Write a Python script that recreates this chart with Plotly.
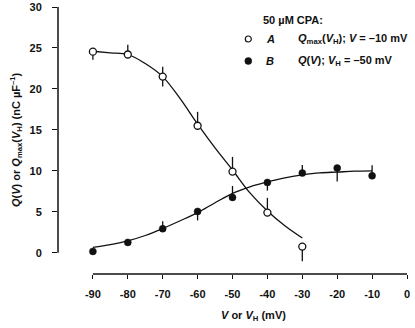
import plotly.graph_objects as go

# ---- data ----
v_points_a = [-90, -80, -70, -60, -50, -40, -30]
q_points_a = [24.55, 24.2, 21.5, 15.5, 9.9, 4.9, 0.75]
err_up_a = [0, 1.2, 1.2, 1.7, 1.8, 1.8, 0]
err_dn_a = [1.0, 0, 1.2, 0, 0, 0, 1.8]

v_points_b = [-90, -80, -70, -60, -50, -40, -30, -20, -10]
q_points_b = [0.16, 1.26, 2.93, 5.04, 6.75, 8.58, 9.72, 10.33, 9.39]
err_up_b = [0, 0, 0.9, 0, 1.4, 0, 1.0, 0, 1.3]
err_dn_b = [0, 0, 0, 1.1, 0, 1.0, 0, 1.65, 0]

v_curve_a = [-90, -85, -80, -75, -70, -65, -60, -55, -50, -45, -40, -35, -30]
q_curve_a = [24.6, 24.4, 24.2, 23.1, 21.5, 18.8, 15.7, 12.8, 10.1, 7.3, 5.1, 3.3, 1.8]

v_curve_b = [-90, -85, -80, -75, -70, -65, -60, -55, -50, -45, -40, -35, -30, -25, -20, -15, -10]
q_curve_b = [0.65, 1.0, 1.45, 2.1, 2.95, 3.9, 4.9, 6.1, 7.25, 8.05, 8.65, 9.15, 9.5, 9.75, 9.85, 9.95, 10.0]

x_tickvals = [-90, -80, -70, -60, -50, -40, -30, -20, -10, 0]
x_ticktext = ["-90", "-80", "-70", "-60", "-50", "-40", "-30", "-20", "-10", "0"]
y_tickvals = [0, 5, 10, 15, 20, 25, 30]

FONT = "Liberation Sans, Arial, sans-serif"
BLACK = "#111111"

fig = go.Figure()

fig.add_trace(go.Scatter(x=v_curve_a, y=q_curve_a, mode="lines", line=dict(color=BLACK, width=1.3, shape="spline"),
                         hoverinfo="skip", showlegend=False))
fig.add_trace(go.Scatter(x=v_curve_b, y=q_curve_b, mode="lines", line=dict(color=BLACK, width=1.3, shape="spline"),
                         hoverinfo="skip", showlegend=False))

fig.add_trace(go.Scatter(
    x=v_points_a, y=q_points_a, mode="markers",
    marker=dict(symbol="circle", size=7, color="white", line=dict(color=BLACK, width=1.3)),
    error_y=dict(type="data", symmetric=False, array=err_up_a, arrayminus=err_dn_a,
                 color=BLACK, thickness=1.3, width=0),
    showlegend=False))
fig.add_trace(go.Scatter(
    x=v_points_b, y=q_points_b, mode="markers",
    marker=dict(symbol="circle", size=7, color=BLACK, line=dict(color=BLACK, width=0.5)),
    error_y=dict(type="data", symmetric=False, array=err_up_b, arrayminus=err_dn_b,
                 color=BLACK, thickness=1.3, width=0),
    showlegend=False))

L, R, T, B = 58, 8, 7, 54
W, H = 415, 328
pw = W - L - R
ph = H - T - B


def px(xp):
    return (xp - L) / pw


def py(yp):
    return (H - B - yp) / ph


shapes = [
    dict(type="line", xref="paper", yref="y", x0=0, x1=0, y0=0, y1=30, line=dict(color=BLACK, width=1.5)),
    dict(type="line", xref="x", yref="paper", x0=-90, x1=0, y0=0, y1=0, line=dict(color=BLACK, width=1.5)),
    dict(type="circle", xref="paper", yref="paper", xsizemode="pixel", ysizemode="pixel",
         xanchor=px(248.3), yanchor=py(39), x0=-3, x1=3, y0=-3, y1=3,
         line=dict(color=BLACK, width=1.2), fillcolor="white"),
    dict(type="circle", xref="paper", yref="paper", xsizemode="pixel", ysizemode="pixel",
         xanchor=px(248.3), yanchor=py(61), x0=-3.5, x1=3.5, y0=-3.5, y1=3.5,
         line=dict(color=BLACK, width=0.5), fillcolor=BLACK),
]

afont = dict(family=FONT, size=11, color=BLACK)
annotations = [
    dict(text="<b>50 µM CPA:</b>", xref="paper", yref="paper", x=px(261), y=py(20),
         xanchor="left", yanchor="middle", showarrow=False, font=afont),
    dict(text="<b><i>A</i></b>", xref="paper", yref="paper", x=px(264), y=py(39),
         xanchor="left", yanchor="middle", showarrow=False, font=afont),
    dict(text="<b><i>Q</i><sub>max</sub>(<i>V</i><sub>H</sub>); <i>V</i> = –10 mV</b>", xref="paper", yref="paper",
         x=px(295.5), y=py(39), xanchor="left", yanchor="middle", showarrow=False, font=afont),
    dict(text="<b><i>B</i></b>", xref="paper", yref="paper", x=px(264), y=py(61),
         xanchor="left", yanchor="middle", showarrow=False, font=afont),
    dict(text="<b><i>Q</i>(<i>V</i>); <i>V</i><sub>H</sub> = –50 mV</b>", xref="paper", yref="paper",
         x=px(295.5), y=py(61), xanchor="left", yanchor="middle", showarrow=False, font=afont),
    dict(text="<b><i>V</i> or <i>V</i><sub>H</sub> (mV)</b>", xref="paper", yref="paper",
         x=px(253), y=py(316), xanchor="center", yanchor="middle", showarrow=False, font=afont),
    dict(text="<b><i>Q</i>(<i>V</i>) or <i>Q</i><sub>max</sub>(<i>V</i><sub>H</sub>) (nC µF<sup>–1</sup>)</b>",
         xref="paper", yref="paper", x=px(16), y=py(140), xanchor="center", yanchor="middle",
         textangle=-90, showarrow=False, font=afont),
]

tickfont = dict(family=FONT, size=11, color=BLACK, weight="bold")

fig.update_layout(
    width=W, height=H,
    margin=dict(l=L, r=R, t=T, b=B, pad=0, autoexpand=False),
    paper_bgcolor="white", plot_bgcolor="white",
    shapes=shapes, annotations=annotations,
    xaxis=dict(range=[-100, 0], tickvals=x_tickvals, ticktext=x_ticktext, ticks="outside", ticklen=4,
               tickwidth=1.3, tickcolor=BLACK, showline=False, showgrid=False, zeroline=False,
               tickfont=tickfont, ticklabelstandoff=6, automargin=False),
    yaxis=dict(range=[-2.6, 30], tickvals=y_tickvals, ticks="outside", ticklen=5, tickwidth=1.3,
               tickcolor=BLACK, showline=False, showgrid=False, zeroline=False, tickfont=tickfont,
               ticklabelstandoff=8, automargin=False),
)

fig.write_html("out.html", config={"displayModeBar": False},
               post_script="document.body.style.margin='0px';document.body.style.overflow='hidden';")
